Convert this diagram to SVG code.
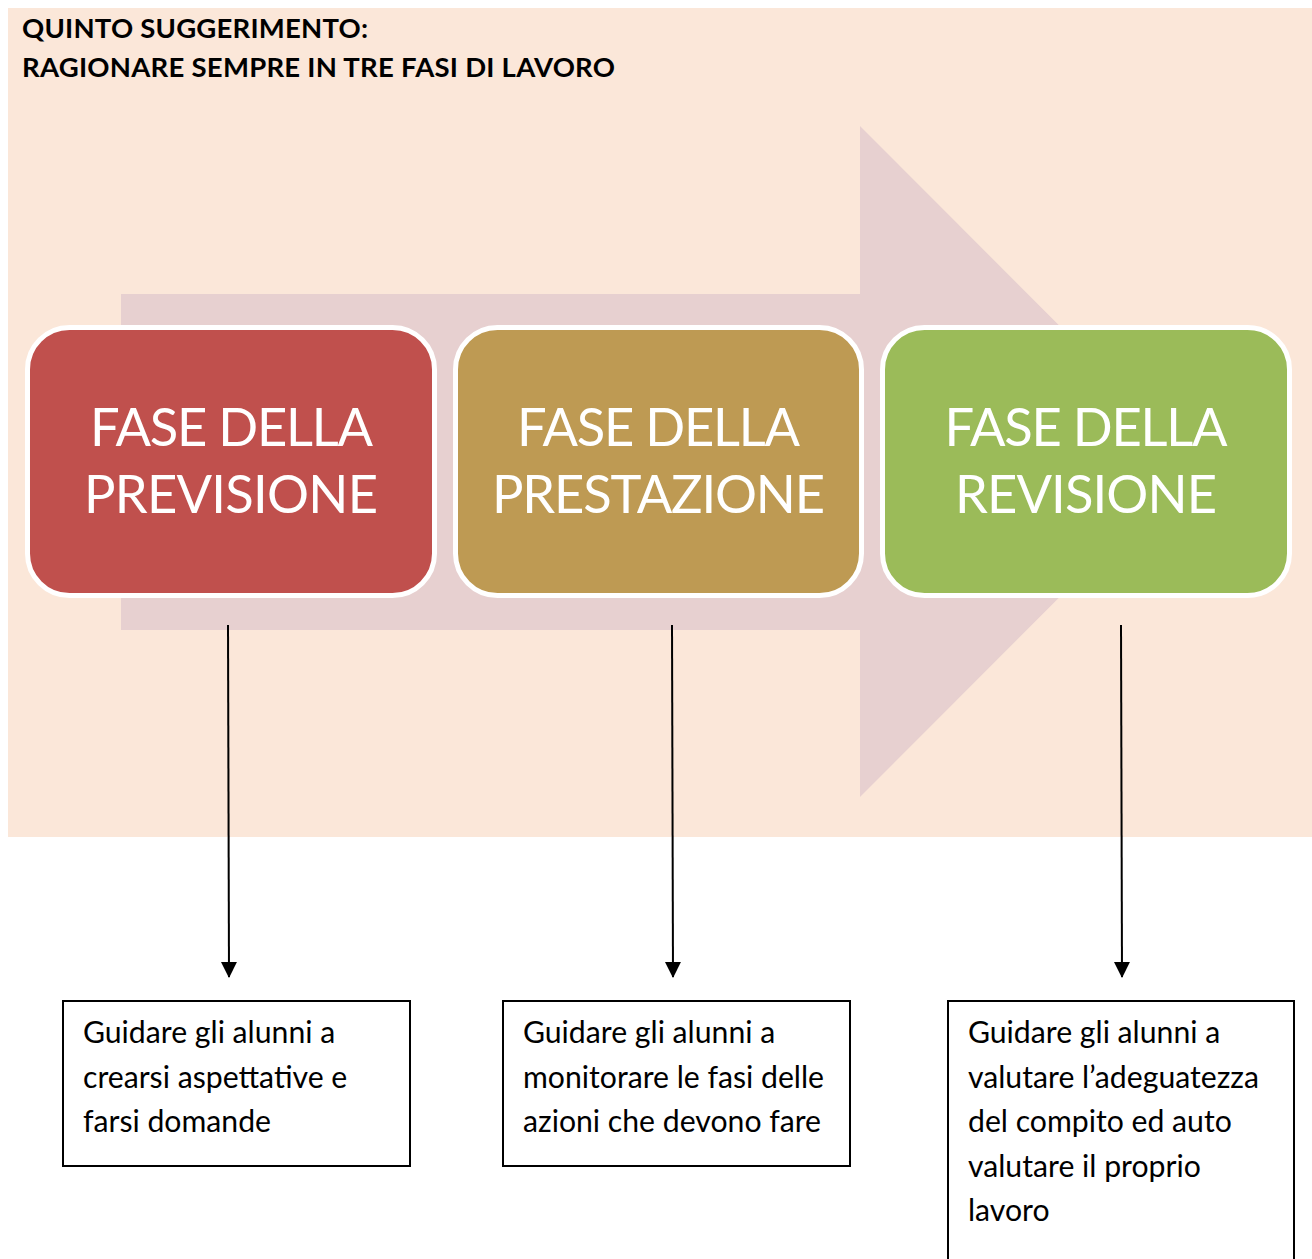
<svg xmlns="http://www.w3.org/2000/svg" width="1312" height="1259" viewBox="0 0 1312 1259">
<style>
.title{font-family:Lato,"Liberation Sans",sans-serif;font-weight:bold;font-size:27.5px;fill:#000}
.big{font-family:Lato,"Liberation Sans",sans-serif;font-size:52.5px;fill:#fff;text-anchor:middle}
.box{stroke:#fff;stroke-width:5}
.note{fill:#fff;stroke:#000;stroke-width:2}
.nt{font-family:Lato,"Liberation Sans",sans-serif;font-size:30.2px;fill:#000}
.conn{stroke:#000;stroke-width:2;fill:none}
</style>
<defs>
<marker id="ah" markerWidth="16" markerHeight="16" refX="15" refY="8" orient="auto" markerUnits="userSpaceOnUse" viewBox="0 0 16 16">
<path d="M0,0 L16,8 L0,16 Z" fill="#000"/>
</marker>
</defs>
<rect width="1312" height="1259" fill="#fff"/>
<g id="background">
<rect x="8" y="8" width="1304" height="829" fill="#FBE7D9"/>
<path d="M121,294 H860 V126 L1195,461.5 L860,797 V630 H121 Z" fill="#E7D0D0"/>
</g>
<g id="title">
<text class="title" x="22" y="38" textLength="346" lengthAdjust="spacing">QUINTO SUGGERIMENTO:</text>
<text class="title" x="22" y="77" textLength="593" lengthAdjust="spacing">RAGIONARE SEMPRE IN TRE FASI DI LAVORO</text>
</g>
<g id="node-previsione">
<rect class="box" x="27.5" y="327.5" width="407" height="268" rx="42" fill="#C0504D"/>
<text class="big" x="231.5" y="446" textLength="283" lengthAdjust="spacing">FASE DELLA</text>
<text class="big" x="231" y="513" textLength="294" lengthAdjust="spacing">PREVISIONE</text>
</g>
<g id="node-prestazione">
<rect class="box" x="455.5" y="327.5" width="406" height="268" rx="42" fill="#BE9A53"/>
<text class="big" x="658.5" y="446" textLength="283" lengthAdjust="spacing">FASE DELLA</text>
<text class="big" x="658.5" y="513" textLength="333" lengthAdjust="spacing">PRESTAZIONE</text>
</g>
<g id="node-revisione">
<rect class="box" x="882.5" y="327.5" width="407" height="268" rx="42" fill="#9BBB59"/>
<text class="big" x="1086" y="446" textLength="283" lengthAdjust="spacing">FASE DELLA</text>
<text class="big" x="1086" y="513" textLength="262" lengthAdjust="spacing">REVISIONE</text>
</g>
<g id="connectors">
<line class="conn" x1="228" y1="625" x2="229" y2="977" marker-end="url(#ah)"/>
<line class="conn" x1="672" y1="625" x2="673" y2="977" marker-end="url(#ah)"/>
<line class="conn" x1="1121" y1="625" x2="1122" y2="977" marker-end="url(#ah)"/>
</g>
<g id="note-previsione">
<rect class="note" x="63" y="1001" width="347" height="165"/>
<text class="nt" x="83" y="1043">Guidare gli alunni a</text>
<text class="nt" x="83" y="1088">crearsi aspettative e</text>
<text class="nt" x="83" y="1132">farsi domande</text>
</g>
<g id="note-prestazione">
<rect class="note" x="503" y="1001" width="347" height="165"/>
<text class="nt" x="523" y="1043">Guidare gli alunni a</text>
<text class="nt" x="523" y="1088">monitorare le fasi delle</text>
<text class="nt" x="523" y="1132">azioni che devono fare</text>
</g>
<g id="note-revisione">
<rect class="note" x="948" y="1001" width="346" height="270"/>
<text class="nt" x="968" y="1043">Guidare gli alunni a</text>
<text class="nt" x="968" y="1088">valutare l’adeguatezza</text>
<text class="nt" x="968" y="1132">del compito ed auto</text>
<text class="nt" x="968" y="1177">valutare il proprio</text>
<text class="nt" x="968" y="1221">lavoro</text>
</g>
</svg>
